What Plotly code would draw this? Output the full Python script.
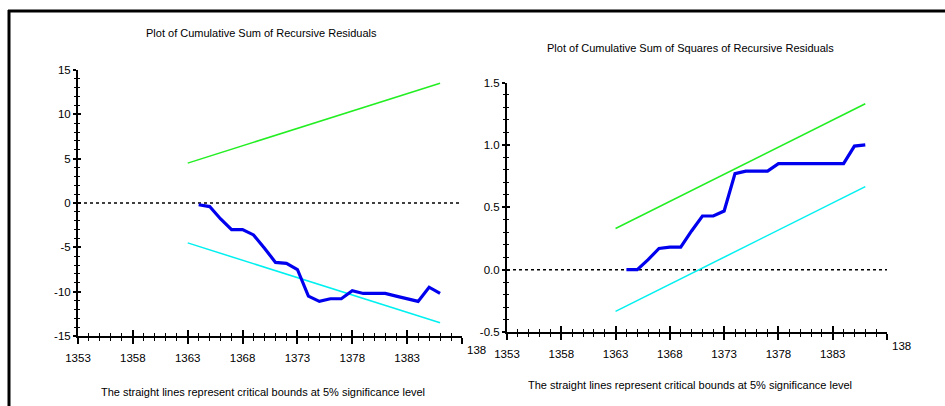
import plotly.graph_objects as go

# ---------------- data ----------------
years = list(range(1364, 1387))
cusum = [-0.2, -0.4, -1.8, -3.0, -3.0, -3.6, -5.1, -6.7, -6.8, -7.5, -10.5, -11.1,
         -10.8, -10.8, -9.9, -10.2, -10.2, -10.2, -10.5, -10.8, -11.1, -9.5, -10.2]
cusumsq = [0.0, 0.0, 0.08, 0.17, 0.18, 0.18, 0.31, 0.43, 0.43, 0.47, 0.77, 0.79,
           0.79, 0.79, 0.85, 0.85, 0.85, 0.85, 0.85, 0.85, 0.85, 0.99, 1.0]

bound_years = [1363, 1386]
cusum_upper = [4.5, 13.5]
cusum_lower = [-4.5, -13.5]
cusumsq_upper = [0.33, 1.33]
cusumsq_lower = [-0.335, 0.665]

zero_x = [1353, 1388]
zero_y = [0, 0]

x_ticks = [1353, 1358, 1363, 1368, 1373, 1378, 1383, 1388]
x_ticktext = ["1353", "1358", "1363", "1368", "1373", "1378", "1383", ""]
y1_ticks = [15, 10, 5, 0, -5, -10, -15]
y1_ticktext = ["15", "10", "5", "0", "-5", "-10", "-15"]
y2_ticks = [1.5, 1.0, 0.5, 0.0, -0.5]
y2_ticktext = ["1.5", "1.0", "0.5", "0.0", "-0.5"]

title_left = "Plot of Cumulative Sum of Recursive Residuals"
title_right = "Plot of Cumulative Sum of Squares of Recursive Residuals"
note = "The straight lines represent critical bounds at 5% significance level"

FONT = "Liberation Sans Narrow, Arial Narrow, Liberation Sans, Arial, sans-serif"
W, H = 945, 406
GREEN = "#22ee22"
CYAN = "#00f0f0"
BLUE = "#0000ee"

fig = go.Figure()


def add_panel(xa, ya, series, upper, lower):
    fig.add_trace(go.Scatter(x=zero_x, y=zero_y, mode="lines", xaxis=xa, yaxis=ya,
                             line=dict(color="black", width=1.5, dash="dot"), hoverinfo="skip"))
    fig.add_trace(go.Scatter(x=bound_years, y=upper, mode="lines", xaxis=xa, yaxis=ya,
                             line=dict(color=GREEN, width=1.5)))
    fig.add_trace(go.Scatter(x=bound_years, y=lower, mode="lines", xaxis=xa, yaxis=ya,
                             line=dict(color=CYAN, width=1.5)))
    fig.add_trace(go.Scatter(x=years, y=series, mode="lines", xaxis=xa, yaxis=ya,
                             line=dict(color=BLUE, width=3.2)))


add_panel("x", "y", cusum, cusum_upper, cusum_lower)
add_panel("x2", "y2", cusumsq, cusumsq_upper, cusumsq_lower)
# invisible traces so that overlay tick axes are drawn
fig.add_trace(go.Scatter(x=zero_x, y=zero_y, xaxis="x3", yaxis="y3", mode="lines",
                         line=dict(width=0), opacity=0, hoverinfo="skip"))
fig.add_trace(go.Scatter(x=zero_x, y=zero_y, xaxis="x4", yaxis="y4", mode="lines",
                         line=dict(width=0), opacity=0, hoverinfo="skip"))

tickfont = dict(family=FONT, size=11.5, color="black")
textfont = dict(family=FONT, size=11, color="black")

L_dom_x = [78 / W, 462 / W]
L_dom_y = [1 - 336 / H, 1 - 70 / H]
R_dom_x = [507 / W, 887 / W]
R_dom_y = [1 - 332 / H, 1 - 82.5 / H]


def xaxis_main(dom, anchor):
    return dict(domain=dom, range=[1353, 1388], anchor=anchor, showgrid=False, zeroline=False,
                automargin=False,
                showline=True, linecolor="black", linewidth=2,
                ticks="outside", ticklen=6, tickwidth=1.5, tickcolor="black",
                tickvals=x_ticks, ticktext=x_ticktext, tickfont=tickfont, ticklabelstandoff=4,
                minor=dict(ticks="outside", dtick=1, tick0=1353, ticklen=3, tickwidth=1.2,
                           tickcolor="black", showgrid=False))


def xaxis_overlay(dom, anchor, over):
    return dict(domain=dom, range=[1353, 1388], anchor=anchor, overlaying=over, side="bottom",
                automargin=False,
                showgrid=False, zeroline=False, showline=False, showticklabels=False,
                ticks="inside", ticklen=6, tickwidth=1.5, tickcolor="black", tickvals=x_ticks,
                minor=dict(ticks="inside", dtick=1, tick0=1353, ticklen=3, tickwidth=1.2,
                           tickcolor="black", showgrid=False))


def yaxis_main(dom, anchor, rng, vals, text, mdt):
    return dict(domain=dom, range=rng, anchor=anchor, showgrid=False, zeroline=False,
                automargin=False,
                showline=True, linecolor="black", linewidth=2,
                ticks="outside", ticklen=3, tickwidth=1.5, tickcolor="black",
                tickvals=vals, ticktext=text, tickfont=tickfont, ticklabelstandoff=0,
                minor=dict(ticks="outside", dtick=mdt, tick0=rng[0], ticklen=2, tickwidth=1.2,
                           tickcolor="black", showgrid=False))


def yaxis_overlay(dom, anchor, over, rng, vals, mdt):
    return dict(domain=dom, range=rng, anchor=anchor, overlaying=over, side="left",
                automargin=False,
                showgrid=False, zeroline=False, showline=False, showticklabels=False,
                ticks="inside", ticklen=3, tickwidth=1.5, tickcolor="black", tickvals=vals,
                minor=dict(ticks="inside", dtick=mdt, tick0=rng[0], ticklen=2, tickwidth=1.2,
                           tickcolor="black", showgrid=False))


fig.update_layout(
    width=W, height=H, autosize=False, showlegend=False,
    margin=dict(l=0, r=0, t=0, b=0, pad=0, autoexpand=False),
    paper_bgcolor="white", plot_bgcolor="rgba(0,0,0,0)",
    xaxis=xaxis_main(L_dom_x, "y"),
    yaxis=yaxis_main(L_dom_y, "x", [-15, 15], y1_ticks, y1_ticktext, 1),
    xaxis2=xaxis_main(R_dom_x, "y2"),
    yaxis2=yaxis_main(R_dom_y, "x2", [-0.5, 1.5], y2_ticks, y2_ticktext, 0.1),
    xaxis3=xaxis_overlay(L_dom_x, "y3", "x"),
    yaxis3=yaxis_overlay(L_dom_y, "x3", "y", [-15, 15], y1_ticks, 1),
    xaxis4=xaxis_overlay(R_dom_x, "y4", "x2"),
    yaxis4=yaxis_overlay(R_dom_y, "x4", "y2", [-0.5, 1.5], y2_ticks, 0.1),
)

ann = []
ann.append(dict(text=title_left, x=261 / W, y=1 - 33 / H, xref="paper", yref="paper",
                xanchor="center", yanchor="middle", showarrow=False, font=textfont))
ann.append(dict(text=title_right, x=690 / W, y=1 - 48 / H, xref="paper", yref="paper",
                xanchor="center", yanchor="middle", showarrow=False, font=textfont))
ann.append(dict(text=note, x=263 / W, y=1 - 392 / H, xref="paper", yref="paper",
                xanchor="center", yanchor="middle", showarrow=False, font=textfont))
ann.append(dict(text=note, x=690 / W, y=1 - 385 / H, xref="paper", yref="paper",
                xanchor="center", yanchor="middle", showarrow=False, font=textfont))
# clipped last tick labels
ann.append(dict(text="138", x=1388, xref="x", y=1 - 350 / H, yref="paper", xanchor="left",
                yanchor="middle", xshift=3, showarrow=False, font=tickfont))
ann.append(dict(text="138", x=1388, xref="x2", y=1 - 346 / H, yref="paper", xanchor="left",
                yanchor="middle", xshift=3, showarrow=False, font=tickfont))
fig.update_layout(annotations=ann)

# outer frame lines
fig.add_shape(type="line", xref="paper", yref="paper", x0=8 / W, x1=1, y0=1 - 11 / H, y1=1 - 11 / H,
              line=dict(color="black", width=3))
fig.add_shape(type="line", xref="paper", yref="paper", x0=9 / W, x1=9 / W, y0=0, y1=1 - 10 / H,
              line=dict(color="black", width=3))

fig.write_html("out.html", config={"displayModeBar": False},
               post_script="document.body.style.margin='0';document.body.style.overflow='hidden';")
